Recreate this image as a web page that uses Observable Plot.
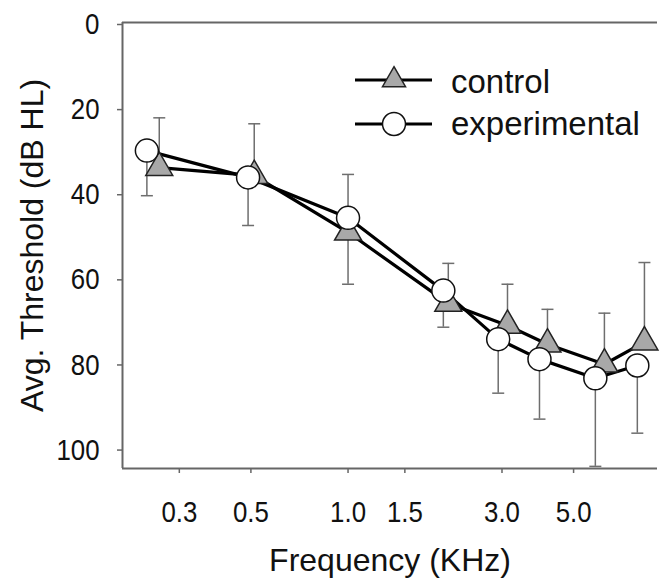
<!DOCTYPE html>
<html>
<head>
<meta charset="utf-8">
<script src="https://cdn.jsdelivr.net/npm/d3@7"></script>
<script src="https://cdn.jsdelivr.net/npm/@observablehq/plot@0.6"></script>
<style>
  body { margin: 0; background: #fff; }
  #chart { width: 660px; height: 578px; }
</style>
</head>
<body>
<div id="chart"></div>
<script>
// ---- data ----
const seriesNames = ["control", "experimental"];

const controlFreq = [0.260, 0.512, 1.0, 2.045, 3.12, 4.15, 6.23, 8.29];
const controlMean = [34.1, 36.0, 49.3, 66.0, 71.2, 75.6, 80.3, 75.1];
const controlBarEnd = [22.4, 23.8, 35.7, 56.6, 61.5, 67.4, 68.3, 56.4];

const expFreq = [0.238, 0.490, 1.0, 1.974, 2.92, 3.92, 5.84, 7.88];
const expMean = [30.1, 36.4, 45.9, 63.0, 74.4, 79.1, 83.6, 80.6];
const expBarEnd = [40.7, 47.7, 61.5, 71.6, 87.1, 93.2, 104.3, 96.5];

const xTicks = [0.3, 0.5, 1.0, 1.5, 3.0, 5.0];
const yTicks = [0, 20, 40, 60, 80, 100];
const xDomain = [0.2, 9.1];
const yDomain = [0, 104.8];

const xTitle = "Frequency (KHz)";
const yTitle = "Avg. Threshold (dB HL)";

// ---- tables built from the arrays ----
const control = controlFreq.map((f, i) => ({f, v: controlMean[i], e: controlBarEnd[i]}));
const experimental = expFreq.map((f, i) => ({f, v: expMean[i], e: expBarEnd[i]}));

const capSymbol = {
  draw(ctx, size) {
    const r = Math.sqrt(size / Math.PI);
    ctx.moveTo(-r, 0);
    ctx.lineTo(r, 0);
  }
};

const FONT = "'Liberation Sans', Arial, Helvetica, sans-serif";
const AXIS = "#666";
const BAR = "#6e6e6e";

const chart = Plot.plot({
  width: 660,
  height: 578,
  marginLeft: 122,
  marginRight: 3,
  marginTop: 22,
  marginBottom: 110,
  style: {fontFamily: FONT, background: "#fff", color: "#111"},
  x: {type: "log", domain: xDomain},
  y: {domain: yDomain, reverse: true},
  marks: [
    // frame lines
    Plot.ruleY([yDomain[0]], {stroke: AXIS, strokeWidth: 2}),
    Plot.ruleY([yDomain[1]], {stroke: AXIS, strokeWidth: 2}),
    Plot.ruleX([xDomain[0]], {stroke: AXIS, strokeWidth: 2}),
    // axes
    Plot.axisX({ticks: xTicks, tickFormat: d3.format(".1f"), tickSize: 5, tickPadding: 27,
                fontSize: 30, stroke: AXIS, strokeWidth: 1.5, label: null}),
    Plot.axisY({ticks: yTicks, tickSize: 5, tickPadding: 18, dy: 2,
                fontSize: 30, stroke: AXIS, strokeWidth: 1.5, label: null}),
    Plot.text([xTitle], {frameAnchor: "bottom", dy: 102, lineAnchor: "bottom", fontSize: 32, fill: "#111"}),
    Plot.text([yTitle], {frameAnchor: "left", dx: -80, rotate: -90, textAnchor: "middle",
                         lineAnchor: "bottom", fontSize: 32, fill: "#111"}),
    // error bars
    Plot.ruleX(control, {x: "f", y1: "v", y2: "e", stroke: BAR, strokeWidth: 1.5}),
    Plot.dot(control, {x: "f", y: "e", symbol: capSymbol, r: 6, stroke: BAR, strokeWidth: 1.5, fill: "none"}),
    Plot.ruleX(experimental, {x: "f", y1: "v", y2: "e", stroke: BAR, strokeWidth: 1.5}),
    Plot.dot(experimental, {x: "f", y: "e", symbol: capSymbol, r: 6, stroke: BAR, strokeWidth: 1.5, fill: "none"}),
    // lines
    Plot.line(control, {x: "f", y: "v", stroke: "#000", strokeWidth: 3.2}),
    Plot.line(experimental, {x: "f", y: "v", stroke: "#000", strokeWidth: 3.2}),
    // markers
    Plot.dot(control, {x: "f", y: "v", symbol: "triangle", r: 10, fill: "#a8a8a8", stroke: "#222", strokeWidth: 1.5}),
    Plot.dot(experimental, {x: "f", y: "v", symbol: "circle", r: 11.5, fill: "#fff", stroke: "#111", strokeWidth: 1.5})
  ]
});

document.getElementById("chart").appendChild(chart);

const svg = d3.select(chart);

// tick labels in the reference are slightly condensed
svg.selectAll('g[aria-label="x-axis tick label"] text, g[aria-label="y-axis tick label"] text').each(function () {
  const w = this.getComputedTextLength();
  if (w > 0) {
    this.setAttribute("lengthAdjust", "spacingAndGlyphs");
    this.setAttribute("textLength", (w * 0.86).toFixed(1));
  }
});

// ---- legend (inside the plot, top right) ----
const legend = svg.append("g");
const rows = [
  {name: seriesNames[0], y: 80, base: 93, kind: "triangle"},
  {name: seriesNames[1], y: 124, base: 135, kind: "circle"}
];
rows.forEach(r => {
  legend.append("line").attr("x1", 355).attr("x2", 432).attr("y1", r.y).attr("y2", r.y)
    .attr("stroke", "#000").attr("stroke-width", 3.2);
  if (r.kind === "triangle") {
    legend.append("path")
      .attr("d", d3.symbol(d3.symbolTriangle2, Math.PI * 11 * 11)())
      .attr("transform", `translate(394,${r.y})`)
      .attr("fill", "#a8a8a8").attr("stroke", "#222").attr("stroke-width", 1.5);
  } else {
    legend.append("circle").attr("cx", 394).attr("cy", r.y).attr("r", 11.5)
      .attr("fill", "#fff").attr("stroke", "#111").attr("stroke-width", 1.5);
  }
  legend.append("text").attr("x", 451).attr("y", r.base)
    .attr("text-anchor", "start").attr("font-family", FONT).attr("font-size", 33)
    .attr("fill", "#111").text(r.name);
});
</script>
</body>
</html>
